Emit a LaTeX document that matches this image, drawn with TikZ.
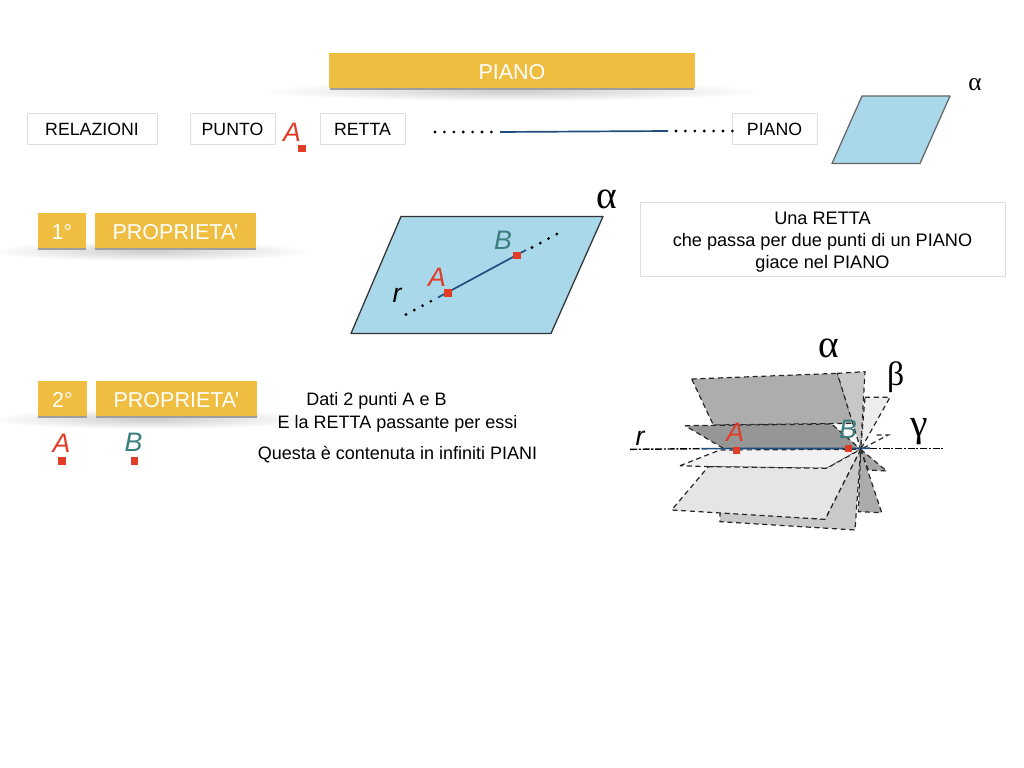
\documentclass[tikz,border=0pt]{standalone}
\usepackage{fontspec}
\setmainfont{Liberation Sans}
\newfontfamily\greekfont{Liberation Serif}
\usetikzlibrary{positioning, shapes.geometric, backgrounds}

\definecolor{oro}{HTML}{EFBD40}
\definecolor{cielo}{HTML}{A9D8EA}
\definecolor{rosso}{HTML}{E03C28}
\definecolor{verde}{HTML}{3A7F7C}
\definecolor{blu}{HTML}{1F4E7E}

\begin{document}
\begin{tikzpicture}[
    x=0.025cm, y=-0.025cm,
    labelbox/.style={draw=black!13, line width=0.6pt, fill=white, minimum height=0.775cm, align=center, font=\fontsize{12.6}{15.7}\selectfont},
    titlebar/.style={fill=oro, text=white, minimum height=0.875cm, inner sep=0pt, text height=0.435cm, text depth=0pt, font=\fontsize{15.3}{17}\selectfont},
    softshadow/.style={ellipse, inner sep=0pt, draw=none, inner color=black!20, outer color=white, minimum height=0.5cm},
    hardshadow/.style={fill=black!38, inner sep=0pt, minimum height=0.06cm},
    lbl/.style={font=\fontsize{12.8}{15.5}\selectfont, inner sep=0pt},
    letter/.style={font=\fontsize{19}{22}\selectfont\itshape, inner sep=0pt},
    greek/.style={font=\fontsize{#1}{30}\selectfont\greekfont, inner sep=0pt},
    pnt/.style={fill=rosso, minimum size=0.19cm, inner sep=0pt},
    plane/.style={fill=cielo, draw=black!80, line width=0.9pt, line join=round},
    seg/.style={draw=blu, line width=1.2pt},
    dots/.style={line width=2.2pt, line cap=round, dash pattern=on 0pt off 0.235cm},
    dsh/.style={draw=black!85, line width=0.85pt, dash pattern=on 3.6pt off 2.6pt}
]
    \useasboundingbox (0,0) rectangle (1024,768);

    % ================= SHADOWS =================
    \node[softshadow, minimum width=12.6cm] (ShadowTop) at (512,91) {};
    \node[softshadow, minimum width=8.2cm] (ShadowOne) at (150,251) {};
    \node[softshadow, minimum width=8.2cm] (ShadowTwo) at (150,419) {};
    \node[hardshadow, minimum width=9.1cm] (EdgeTop) at (512,89) {};
    \node[hardshadow, minimum width=1.2cm] (EdgeOneA) at (62,249) {};
    \node[hardshadow, minimum width=4cm] (EdgeOneB) at (175.5,249) {};
    \node[hardshadow, minimum width=1.2cm] (EdgeTwoA) at (62.5,417) {};
    \node[hardshadow, minimum width=4cm] (EdgeTwoB) at (176.5,417) {};

    % ================= TITLE BARS =================
    \node[titlebar, minimum width=9.15cm] (Title) at (512,70.5) {PIANO};
    \node[titlebar, minimum width=1.2cm] (NumOne) at (62,230.5) {1°};
    \node[titlebar, minimum width=4.02cm] (PropOne) at (175.5,230.5) {PROPRIETA’};
    \node[titlebar, minimum width=1.2cm] (NumTwo) at (62.5,398.5) {2°};
    \node[titlebar, minimum width=4.02cm] (PropTwo) at (176.5,398.5) {PROPRIETA’};

    % ================= RELATIONS ROW =================
    \node[labelbox, minimum width=3.25cm] (Relazioni) at (92,129) {RELAZIONI};
    \node[labelbox, minimum width=2.125cm] (Punto) at (232.5,129) {PUNTO};
    \node[labelbox, minimum width=2.125cm] (Retta) at (362.5,129) {RETTA};
    \node[labelbox, minimum width=2.125cm] (Piano) at (774.5,129) {PIANO};
    \node[letter, text=rosso] (LetA) at (292,132) {A};
    \node[pnt] (PntA) at (302,148.5) {};

    \coordinate (DotsL) at (435,132);
    \coordinate (LineL) at (500,132);
    \coordinate (LineR) at (668,131);
    \coordinate (DotsR) at (733,131);
    \draw[dots] (DotsL) -- (LineL);
    \draw[seg] (LineL) -- (LineR);
    \draw[dots] (LineR) ++(8,0) -- (DotsR);

    % small plane
    \draw[plane, draw=black!60] (862,96) -- (950,96) -- (920,163.5) -- (832,163.5) -- cycle;
    \node[greek=18] (SmallAlpha) at (975,85) {α};

    % ================= FIRST PROPERTY =================
    \draw[plane] (401,216.5) -- (603,216.5) -- (551,333.5) -- (351,333.5) -- cycle;
    \node[greek=28] (AlphaOne) at (607,199) {α};
    \coordinate (OneDotsL) at (406,314.5);
    \coordinate (OneL) at (438,297.5);
    \coordinate (OneR) at (526,250);
    \coordinate (OneDotsR) at (557,234);
    \draw[dots] (OneDotsL) -- (OneL);
    \draw[seg] (OneL) -- (OneR);
    \draw[dots] (OneR) ++(6,-2.5) -- (OneDotsR);
    \node[pnt] (OneA) at (448,293) {};
    \node[pnt] (OneB) at (517,255.5) {};
    \node[letter, text=rosso] (OneLetA) at (437,277) {A};
    \node[letter, text=verde] (OneLetB) at (503,240.5) {B};
    \node[letter] (OneLetR) at (397,295.5) {r};

    \node[labelbox, font=\fontsize{12.9}{15.7}\selectfont, inner sep=0pt, minimum width=9.125cm, minimum height=1.85cm] (Enunciato) at (822.5,239) {\rule{0pt}{13pt}Una RETTA\\che passa per due punti di un PIANO\\giace nel PIANO};

    % ================= SECOND PROPERTY =================
    \node[letter, text=rosso] (TwoLetA) at (61.5,443) {A};
    \node[letter, text=verde] (TwoLetB) at (133.5,442) {B};
    \node[pnt] (TwoA) at (62,461) {};
    \node[pnt] (TwoB) at (134.5,461) {};
    \node[lbl] (TextDati) at (376.5,401) {Dati 2 punti A e B};
    \node[lbl] (TextRetta) at (397.5,424) {E la RETTA passante per essi};
    \node[lbl] (TextInfiniti) at (397.5,455) {Questa è contenuta in infiniti PIANI};

    % bundle of planes through the line
    \begin{scope}[shift={(620,320)}, scale=1/3]
        \coordinate (Hub) at (722,388);
        \filldraw[dsh, fill=black!7] (735,232) -- (810,232) -- (Hub) -- cycle;
        \filldraw[dsh, fill=black!32] (215,177) -- (652,160) -- (700,310) -- (280,315) -- cycle;
        \filldraw[dsh, fill=black!22] (652,160) -- (735,155) -- (Hub) -- (695,300) -- cycle;
        \filldraw[dsh, fill=black!41] (195,317) -- (635,312) -- (Hub) -- (310,385) -- cycle;
        \draw[dsh] (770,345) -- (805,345) -- (Hub);
        \filldraw[dsh, fill=black!35] (Hub) -- (800,453) -- (745,450) -- cycle;
        \filldraw[dsh, fill=black!33] (Hub) -- (785,578) -- (715,575) -- cycle;
        \filldraw[dsh, fill=black!21] (300,575) -- (300,605) -- (705,630) -- (Hub) -- (615,598) -- cycle;
        \filldraw[dsh, fill=black!5] (180,437) -- (300,390) -- (Hub) -- (620,445) -- (265,440) -- cycle;
        \filldraw[dsh, fill=black!10] (265,440) -- (620,445) -- (Hub) -- (615,598) -- (155,570) -- cycle;
        \coordinate (RetL) at (30,388);
        \coordinate (BluL) at (245,386);
        \coordinate (BluR) at (750,385);
        \coordinate (RetR) at (970,385);
        \draw[line width=1pt, dash pattern=on 5pt off 1.2pt on 1.5pt off 1.2pt] (RetL) -- (BluL);
        \draw[line width=1pt, dash pattern=on 5pt off 1.2pt on 1.5pt off 1.2pt] (BluR) -- (RetR);
        \draw[seg] (BluL) -- (BluR);
        \node[pnt] (BunA) at (350,391) {};
        \node[pnt] (BunB) at (686,385) {};
        \node[letter, text=rosso] (BunLetA) at (346,336) {A};
        \node[letter, text=verde] (BunLetB) at (684,327) {B};
        \node[letter] (BunLetR) at (60,354) {r};
        \node[greek=28] (BunAlpha) at (627,85) {α};
        \node[greek=24] (BunBeta) at (827,172) {β};
        \node[greek=28] (BunGamma) at (897,335) {γ};
    \end{scope}
\end{tikzpicture}
\end{document}
